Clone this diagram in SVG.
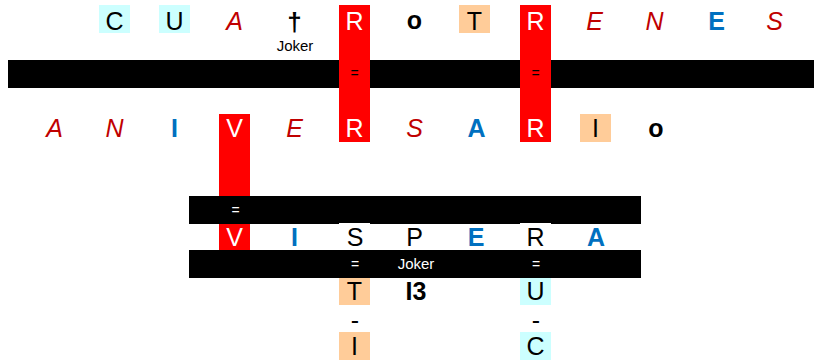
<svg xmlns="http://www.w3.org/2000/svg" width="814" height="361" viewBox="0 0 814 361">
<style>
text{font-family:"Liberation Sans",Arial,sans-serif;text-anchor:middle}
.L{font-size:25px}
.k{fill:#000}
.w{fill:#fff}
.ri{fill:#C00000;font-style:italic}
.bb{fill:#0070C0;font-weight:bold}
.bo{fill:#000;font-weight:bold}
.cy{fill:#CCFFFF}
.pe{fill:#FFCC99}
.rd{fill:#FF0000}
.bar{fill:#000}
.sm{font-size:14px}
.jk{font-size:15px}
</style>
<rect width="814" height="361" fill="#fff"/>
<g id="bars">
<rect class="bar" x="8" y="60" width="806" height="28"/>
<rect class="bar" x="189" y="196" width="452" height="28"/>
<rect class="bar" x="189" y="250" width="452" height="28"/>
</g>
<g id="columns">
<rect class="rd" x="339" y="5" width="31" height="137"/>
<rect class="rd" x="520" y="5" width="31" height="137"/>
<rect class="rd" x="219" y="114" width="31" height="82"/>
<text class="sm k" x="354.5" y="78">=</text>
<text class="sm k" x="535.5" y="78">=</text>
<text class="sm w" x="235.5" y="215">=</text>
</g>
<g id="row1">
<g id="r1-C"><rect class="cy" x="99" y="5" width="31" height="28"/><text class="L k" x="114.5" y="29.5">C</text></g>
<g id="r1-U"><rect class="cy" x="159" y="5" width="31" height="28"/><text class="L k" x="174.5" y="29.5">U</text></g>
<g id="r1-A"><text class="L ri" x="234.5" y="29.5">A</text></g>
<g id="r1-dagger"><text class="bo" style="font-size:26px" x="294.5" y="31">†</text><text class="jk k" x="295" y="51">Joker</text></g>
<g id="r1-R1"><text class="L w" x="354.5" y="29.5">R</text></g>
<g id="r1-o"><text class="L bo" x="414.5" y="29">o</text></g>
<g id="r1-T"><rect class="pe" x="459" y="5" width="31" height="28"/><text class="L k" x="474.5" y="29.5">T</text></g>
<g id="r1-R2"><text class="L w" x="535.5" y="29.5">R</text></g>
<g id="r1-E"><text class="L ri" x="594.5" y="29.5">E</text></g>
<g id="r1-N"><text class="L ri" x="654.5" y="29.5">N</text></g>
<g id="r1-E2"><text class="L bb" x="716.5" y="29.5">E</text></g>
<g id="r1-S"><text class="L ri" x="774.5" y="29.5">S</text></g>
</g>
<g id="row2">
<g id="r2-A"><text class="L ri" x="54.5" y="137">A</text></g>
<g id="r2-N"><text class="L ri" x="114.5" y="137">N</text></g>
<g id="r2-I"><text class="L bb" x="174.5" y="137">I</text></g>
<g id="r2-V"><text class="L w" x="234.5" y="137">V</text></g>
<g id="r2-E"><text class="L ri" x="294.5" y="137">E</text></g>
<g id="r2-R"><text class="L w" x="354.5" y="137">R</text></g>
<g id="r2-S"><text class="L ri" x="414.5" y="137">S</text></g>
<g id="r2-A2"><text class="L bb" x="476.5" y="137">A</text></g>
<g id="r2-R2"><text class="L w" x="535.5" y="137">R</text></g>
<g id="r2-I2"><rect class="pe" x="580" y="114" width="31" height="28"/><text class="L k" x="595.5" y="137">I</text></g>
<g id="r2-o"><text class="L bo" x="656" y="137">o</text></g>
</g>
<g id="row3">
<g id="r3-V"><rect class="rd" x="219" y="224" width="31" height="26"/><text class="L w" x="234.5" y="246">V</text></g>
<g id="r3-I"><text class="L bb" x="294.5" y="246">I</text></g>
<g id="r3-S"><rect fill="#fff" x="339" y="223" width="31" height="27"/><text class="L k" x="355" y="246">S</text></g>
<g id="r3-P"><text class="L k" x="414.5" y="246">P</text></g>
<g id="r3-E"><text class="L bb" x="476" y="246">E</text></g>
<g id="r3-R"><rect fill="#fff" x="520" y="223" width="31" height="27"/><text class="L k" x="535.5" y="246">R</text></g>
<g id="r3-A"><text class="L bb" x="596" y="246">A</text></g>
</g>
<g id="bar2-labels">
<text class="sm w" x="355" y="269">=</text>
<text class="jk w" x="416" y="269">Joker</text>
<text class="sm w" x="536" y="269">=</text>
</g>
<g id="row4">
<g id="r4-T"><rect class="pe" x="339" y="278" width="31" height="27"/><text class="L k" x="354.5" y="300">T</text></g>
<g id="r4-I3"><text class="L bo" x="416" y="300">I3</text></g>
<g id="r4-U"><rect class="cy" x="520" y="278" width="31" height="27"/><text class="L k" x="535.5" y="300">U</text></g>
</g>
<g id="row5">
<text class="L k" x="355" y="329">-</text>
<text class="L k" x="536" y="329">-</text>
</g>
<g id="row6">
<g id="r6-I"><rect class="pe" x="339" y="332" width="31" height="28"/><text class="L k" x="354.5" y="355">I</text></g>
<g id="r6-C"><rect class="cy" x="520" y="332" width="31" height="28"/><text class="L k" x="535.5" y="355">C</text></g>
</g>
</svg>
